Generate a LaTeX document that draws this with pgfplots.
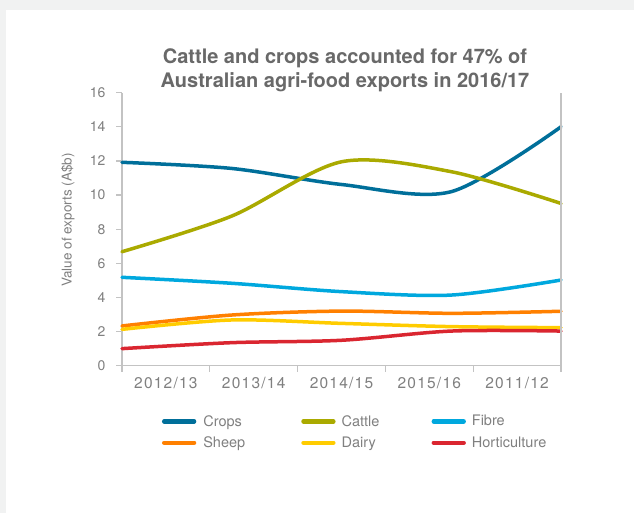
\documentclass[border=0pt]{standalone}
\usepackage{pgfplots}
\pgfplotsset{compat=1.18}
\usepackage{fontspec}
\setmainfont{TeX Gyre Heros}
\newfontfamily\spacedfont[LetterSpace=8]{TeX Gyre Heros}
\definecolor{bgray}{RGB}{241,242,242}
\definecolor{crops}{RGB}{0,111,154}
\definecolor{cattle}{RGB}{170,170,0}
\definecolor{fibre}{RGB}{0,168,222}
\definecolor{sheep}{RGB}{255,128,0}
\definecolor{dairy}{RGB}{255,204,0}
\definecolor{hort}{RGB}{218,38,48}
\definecolor{txt}{RGB}{128,128,128}
\definecolor{ttl}{RGB}{105,105,105}
\definecolor{axl}{RGB}{195,195,195}
\begin{document}
\begin{tikzpicture}[x=1pt,y=1pt]
\fill[bgray] (0,0) rectangle (634,513);
\fill[white] (6,0) rectangle (634,503);
\useasboundingbox (0,0) rectangle (634,513);
\node[align=center,text=ttl,font=\fontsize{20}{23.5}\selectfont\bfseries] at (345,442.5)
  {Cattle and crops accounted for 47\% of\\Australian agri-food exports in 2016/17};
\begin{axis}[
  at={(122pt,147.3pt)}, anchor=south west,
  scale only axis, width=439pt, height=273pt,
  xmin=0, xmax=4, ymin=0, ymax=16,
  axis x line*=bottom, axis y line*=left,
  axis line style={axl, line width=1.2pt, -},
  xtick={0,0.8,1.6,2.4,3.2,4},
  x tick label as interval,
  xticklabels={2012/13,2013/14,2014/15,2015/16,2011/12},
  ytick={0,2,...,16},
  tick style={axl, line width=1.2pt},
  major tick length=6pt,
  tick align=outside,
  ticklabel style={text=txt, font=\fontsize{14}{16}\selectfont},
  xticklabel style={yshift=-1.5pt, font=\spacedfont\fontsize{15.5}{17}\selectfont},
  yticklabel style={xshift=-7pt},
  /pgf/number format/assume math mode=true,
  ylabel={Value of exports (A\$b)},
  every axis y label/.style={at={(axis description cs:-0.123,0.534)}, rotate=90, anchor=center,
    text=txt, font=\fontsize{13.5}{16}\selectfont},
  legend columns=3,
  legend style={at={(axis description cs:0.0911,-0.243)}, anchor=west, draw=none, fill=none,
    inner sep=0pt, outer sep=0pt, row sep=9pt, column sep=0pt,
    nodes={inner sep=0pt, text=txt, font=\fontsize{14.5}{17}\selectfont}},
  legend cell align=left,
  legend image code/.code={\draw[#1, line width=4.3pt] (0pt,0pt) -- (30pt,0pt);},
  every axis plot/.append style={line width=3.5pt, smooth, tension=0.5, line cap=round},
  clip=false,
]
\addplot[crops] coordinates {(0,11.92) (1,11.56) (2,10.62) (3,10.2) (4,14.0)};
\addplot[cattle] coordinates {(0,6.68) (1,8.77) (2,11.95) (3,11.37) (4,9.51)};
\addplot[fibre] coordinates {(0,5.18) (1,4.83) (2,4.34) (3,4.14) (4,5.02)};
\addplot[sheep] coordinates {(0,2.33) (1,2.97) (2,3.2) (3,3.07) (4,3.19)};
\addplot[dairy] coordinates {(0,2.13) (1,2.68) (2,2.48) (3,2.29) (4,2.23)};
\addplot[hort] coordinates {(0,1.0) (1,1.35) (2,1.49) (3,2.03) (4,2.03)};
\legend{\makebox[105pt][l]{\hspace{7pt}Crops},\makebox[96pt][l]{\hspace{6pt}Cattle},\makebox[90pt][l]{\hspace{6pt}Fibre},
  \makebox[105pt][l]{\hspace{7pt}Sheep},\makebox[96pt][l]{\hspace{6pt}Dairy},\makebox[90pt][l]{\hspace{6pt}Horticulture}}
\draw[axl, line width=1.2pt] (rel axis cs:1,0) -- (rel axis cs:1,1);
\end{axis}
\end{tikzpicture}
\end{document}
